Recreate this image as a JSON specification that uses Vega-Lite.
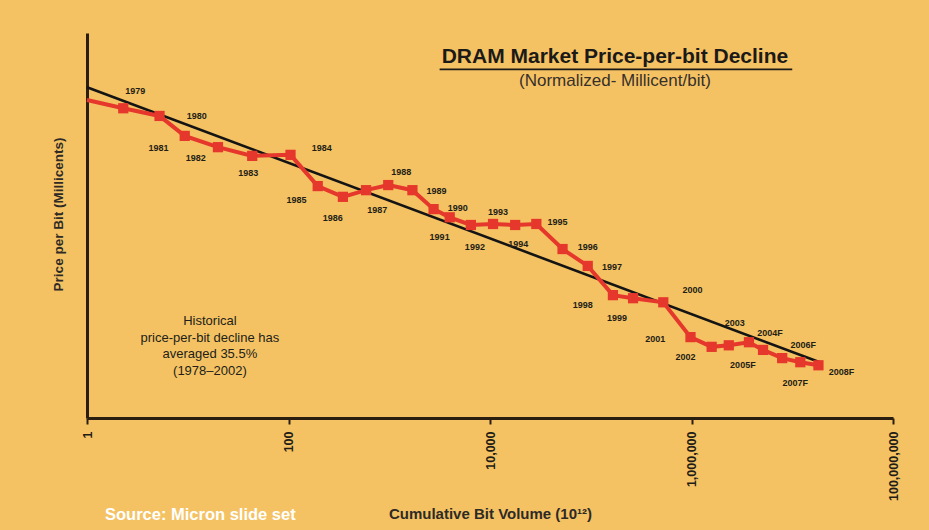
{
  "$schema": "https://vega.github.io/schema/vega-lite/v6.json",
  "width": 806,
  "height": 385,
  "autosize": {"type": "none"},
  "padding": {"left": 87, "top": 33, "right": 36, "bottom": 112},
  "background": "#f5c263",
  "title": {
    "text": "Source: Micron slide set",
    "orient": "bottom",
    "anchor": "start",
    "frame": "group",
    "color": "#ffffff",
    "font": "Liberation Sans",
    "fontSize": 16.5,
    "fontWeight": "bold",
    "offset": -14,
    "dx": 18
  },
  "datasets": {
    "dram": [
      {"year": "1978", "log10_bit_volume": 0.0, "log10_price": 0.0, "label_log10_bit_volume": 0.0, "label_log10_price": 0.0, "label": ""},
      {"year": "1979", "log10_bit_volume": 0.36, "log10_price": -0.16, "label_log10_bit_volume": 0.48, "label_log10_price": 0.18, "label": "1979"},
      {"year": "1980", "log10_bit_volume": 0.72, "log10_price": -0.31, "label_log10_bit_volume": 1.09, "label_log10_price": -0.31, "label": "1980"},
      {"year": "1981", "log10_bit_volume": 0.97, "log10_price": -0.70, "label_log10_bit_volume": 0.71, "label_log10_price": -0.93, "label": "1981"},
      {"year": "1982", "log10_bit_volume": 1.30, "log10_price": -0.92, "label_log10_bit_volume": 1.08, "label_log10_price": -1.14, "label": "1982"},
      {"year": "1983", "log10_bit_volume": 1.64, "log10_price": -1.09, "label_log10_bit_volume": 1.60, "label_log10_price": -1.43, "label": "1983"},
      {"year": "1984", "log10_bit_volume": 2.02, "log10_price": -1.07, "label_log10_bit_volume": 2.33, "label_log10_price": -0.94, "label": "1984"},
      {"year": "1985", "log10_bit_volume": 2.29, "log10_price": -1.68, "label_log10_bit_volume": 2.08, "label_log10_price": -1.95, "label": "1985"},
      {"year": "1986", "log10_bit_volume": 2.54, "log10_price": -1.89, "label_log10_bit_volume": 2.44, "label_log10_price": -2.30, "label": "1986"},
      {"year": "1987", "log10_bit_volume": 2.77, "log10_price": -1.76, "label_log10_bit_volume": 2.88, "label_log10_price": -2.15, "label": "1987"},
      {"year": "1988", "log10_bit_volume": 2.99, "log10_price": -1.66, "label_log10_bit_volume": 3.12, "label_log10_price": -1.41, "label": "1988"},
      {"year": "1989", "log10_bit_volume": 3.23, "log10_price": -1.76, "label_log10_bit_volume": 3.47, "label_log10_price": -1.78, "label": "1989"},
      {"year": "1990", "log10_bit_volume": 3.44, "log10_price": -2.13, "label_log10_bit_volume": 3.68, "label_log10_price": -2.11, "label": "1990"},
      {"year": "1991", "log10_bit_volume": 3.60, "log10_price": -2.29, "label_log10_bit_volume": 3.50, "label_log10_price": -2.68, "label": "1991"},
      {"year": "1992", "log10_bit_volume": 3.81, "log10_price": -2.44, "label_log10_bit_volume": 3.85, "label_log10_price": -2.87, "label": "1992"},
      {"year": "1993", "log10_bit_volume": 4.03, "log10_price": -2.42, "label_log10_bit_volume": 4.08, "label_log10_price": -2.19, "label": "1993"},
      {"year": "1994", "log10_bit_volume": 4.25, "log10_price": -2.44, "label_log10_bit_volume": 4.28, "label_log10_price": -2.81, "label": "1994"},
      {"year": "1995", "log10_bit_volume": 4.46, "log10_price": -2.42, "label_log10_bit_volume": 4.67, "label_log10_price": -2.38, "label": "1995"},
      {"year": "1996", "log10_bit_volume": 4.72, "log10_price": -2.91, "label_log10_bit_volume": 4.97, "label_log10_price": -2.87, "label": "1996"},
      {"year": "1997", "log10_bit_volume": 4.97, "log10_price": -3.24, "label_log10_bit_volume": 5.21, "label_log10_price": -3.26, "label": "1997"},
      {"year": "1998", "log10_bit_volume": 5.22, "log10_price": -3.81, "label_log10_bit_volume": 4.92, "label_log10_price": -4.00, "label": "1998"},
      {"year": "1999", "log10_bit_volume": 5.42, "log10_price": -3.87, "label_log10_bit_volume": 5.26, "label_log10_price": -4.26, "label": "1999"},
      {"year": "2000", "log10_bit_volume": 5.72, "log10_price": -3.95, "label_log10_bit_volume": 6.01, "label_log10_price": -3.71, "label": "2000"},
      {"year": "2001", "log10_bit_volume": 5.99, "log10_price": -4.63, "label_log10_bit_volume": 5.64, "label_log10_price": -4.67, "label": "2001"},
      {"year": "2002", "log10_bit_volume": 6.20, "log10_price": -4.82, "label_log10_bit_volume": 5.94, "label_log10_price": -5.02, "label": "2002"},
      {"year": "2003", "log10_bit_volume": 6.37, "log10_price": -4.79, "label_log10_bit_volume": 6.43, "label_log10_price": -4.36, "label": "2003"},
      {"year": "2004F", "log10_bit_volume": 6.57, "log10_price": -4.73, "label_log10_bit_volume": 6.78, "label_log10_price": -4.55, "label": "2004F"},
      {"year": "2005F", "log10_bit_volume": 6.71, "log10_price": -4.88, "label_log10_bit_volume": 6.51, "label_log10_price": -5.18, "label": "2005F"},
      {"year": "2006F", "log10_bit_volume": 6.90, "log10_price": -5.04, "label_log10_bit_volume": 7.11, "label_log10_price": -4.79, "label": "2006F"},
      {"year": "2007F", "log10_bit_volume": 7.08, "log10_price": -5.12, "label_log10_bit_volume": 7.03, "label_log10_price": -5.53, "label": "2007F"},
      {"year": "2008F", "log10_bit_volume": 7.26, "log10_price": -5.18, "label_log10_bit_volume": 7.49, "label_log10_price": -5.31, "label": "2008F"}
    ],
    "trend": [
      {"log10_bit_volume": 0.0, "log10_price": 0.25},
      {"log10_bit_volume": 7.30, "log10_price": -5.14}
    ],
    "one": [{}]
  },
  "layer": [
    {
      "data": {"name": "trend"},
      "mark": {"type": "line", "color": "#141414", "strokeWidth": 2.6},
      "encoding": {
        "x": {
          "field": "log10_bit_volume", "type": "quantitative",
          "scale": {"domain": [0, 8], "nice": false, "zero": false},
          "axis": {
            "values": [0, 2, 4, 6, 8],
            "labelExpr": "format(pow(10, datum.value), ',')",
            "labelAngle": 270,
            "labelFlush": false,
            "labelOverlap": false,
            "labelFont": "Liberation Sans",
            "labelFontSize": 12.5,
            "labelFontWeight": "bold",
            "labelColor": "#221c16",
            "labelPadding": 7,
            "tickColor": "#2a1e10",
            "tickSize": 6,
            "tickWidth": 2,
            "domainColor": "#2a1e10",
            "domainWidth": 3,
            "grid": false,
            "title": "Cumulative Bit Volume (10¹²)",
            "titleY": 95,
            "titleBaseline": "middle",
            "titleFont": "Liberation Sans",
            "titleFontSize": 15,
            "titleFontWeight": "bold",
            "titleColor": "#2e2a26"
          }
        },
        "y": {
          "field": "log10_price", "type": "quantitative",
          "scale": {"domain": [-6.21, 1.31], "nice": false, "zero": false},
          "axis": {
            "labels": false,
            "ticks": false,
            "grid": false,
            "domainColor": "#2a1e10",
            "domainWidth": 3,
            "title": "Price per Bit (Millicents)",
            "titleX": -29,
            "titleY": 181,
            "titleAngle": 270,
            "titleAlign": "center",
            "titleBaseline": "middle",
            "titleFont": "Liberation Sans",
            "titleFontSize": 13.5,
            "titleFontWeight": "bold",
            "titleColor": "#2e2a26"
          }
        }
      }
    },
    {
      "data": {"name": "dram"},
      "mark": {"type": "line", "color": "#e5372b", "strokeWidth": 4},
      "encoding": {
        "x": {"field": "log10_bit_volume", "type": "quantitative"},
        "y": {"field": "log10_price", "type": "quantitative"},
        "order": {"field": "log10_bit_volume"}
      }
    },
    {
      "data": {"name": "dram"},
      "transform": [{"filter": "datum.label != ''"}],
      "mark": {"type": "point", "shape": "square", "filled": true, "color": "#e5372b", "opacity": 1, "size": 105},
      "encoding": {
        "x": {"field": "log10_bit_volume", "type": "quantitative"},
        "y": {"field": "log10_price", "type": "quantitative"}
      }
    },
    {
      "data": {"name": "dram"},
      "mark": {"type": "text", "font": "Liberation Sans", "fontSize": 9, "fontWeight": "bold", "color": "#231d17"},
      "encoding": {
        "x": {"field": "label_log10_bit_volume", "type": "quantitative"},
        "y": {"field": "label_log10_price", "type": "quantitative"},
        "text": {"field": "label"}
      }
    },
    {
      "data": {"name": "one"},
      "mark": {"type": "text", "font": "Liberation Sans", "fontSize": 21, "fontWeight": "bold", "color": "#1c1a18"},
      "encoding": {
        "x": {"datum": 5.24},
        "y": {"datum": 0.84},
        "text": {"value": "DRAM Market Price-per-bit Decline"}
      }
    },
    {
      "data": {"name": "one"},
      "mark": {"type": "rule", "color": "#1c1a18", "strokeWidth": 1.8},
      "encoding": {
        "x": {"datum": 3.5},
        "x2": {"datum": 7.0},
        "y": {"datum": 0.6}
      }
    },
    {
      "data": {"name": "one"},
      "mark": {"type": "text", "font": "Liberation Sans", "fontSize": 17, "color": "#35302b"},
      "encoding": {
        "x": {"datum": 5.24},
        "y": {"datum": 0.37},
        "text": {"value": "(Normalized- Millicent/bit)"}
      }
    },
    {
      "data": {"name": "one"},
      "mark": {"type": "text", "font": "Liberation Sans", "fontSize": 13, "color": "#221e1a", "baseline": "top", "lineHeight": 16.5},
      "encoding": {
        "x": {"datum": 1.22},
        "y": {"datum": -4.2},
        "text": {"value": ["Historical", "price-per-bit decline has", "averaged 35.5%", "(1978–2002)"]}
      }
    }
  ],
  "config": {
    "view": {"stroke": null}
  }
}
